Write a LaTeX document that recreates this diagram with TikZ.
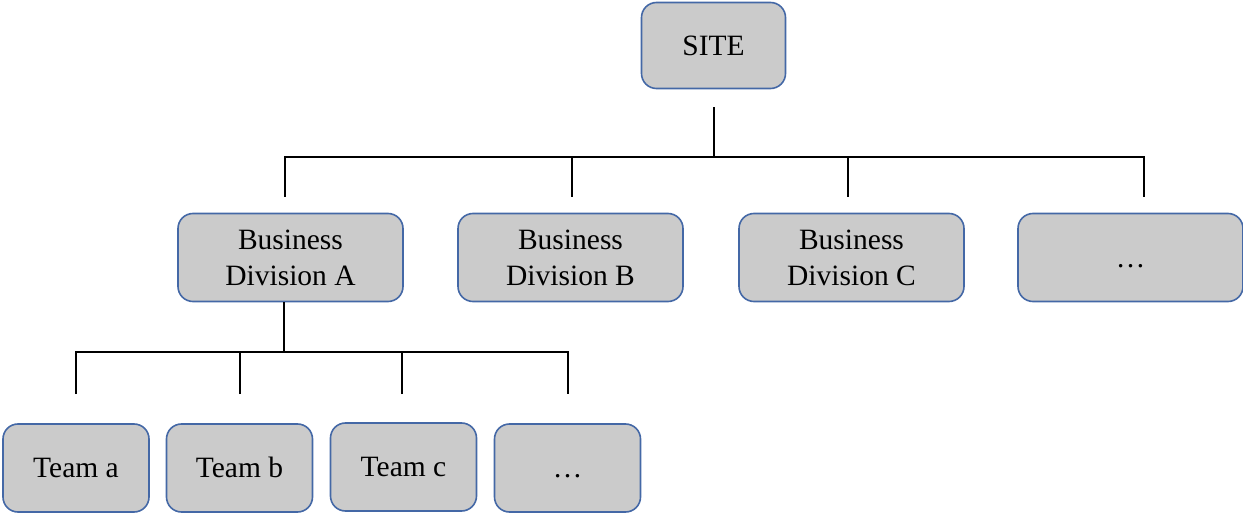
\documentclass[tikz,border=0pt]{standalone}
\usepackage{fontspec}
\setmainfont{Liberation Serif}
\definecolor{boxfill}{HTML}{CBCBCB}
\definecolor{boxline}{HTML}{4468A6}
\begin{document}
\begin{tikzpicture}[x=1pt,y=-1pt,
  orgbox/.style={draw=boxline, fill=boxfill, line width=1.6pt, rounded corners=15pt,
    inner sep=0pt, font=\fontsize{29.5}{36}\selectfont, align=center},
  onebox/.style={orgbox, text height=19.5pt, text depth=0pt},
  link/.style={draw=black, line width=2.4pt}]
\useasboundingbox (0,0) rectangle (1243,513);
% top
\node[onebox, minimum width=144pt, minimum height=86pt] (site) at (713.5,45.5) {SITE};
% divisions
\node[orgbox, minimum width=225pt, minimum height=88pt] (divA) at (290.5,257.5) {Business\\Division A};
\node[orgbox, minimum width=225pt, minimum height=88pt] (divB) at (570.5,257.5) {Business\\Division B};
\node[orgbox, minimum width=225pt, minimum height=88pt] (divC) at (851.5,257.5) {Business\\Division C};
\node[onebox, minimum width=225pt, minimum height=88pt] (divD) at (1130.5,257.5) {…};
% teams
\node[onebox, minimum width=146pt, minimum height=88pt] (teamA) at (76,468) {Team a};
\node[onebox, minimum width=146pt, minimum height=88pt] (teamB) at (239.5,468) {Team b};
\node[onebox, minimum width=146pt, minimum height=88pt] (teamC) at (403.5,467) {Team c};
\node[onebox, minimum width=146pt, minimum height=88pt] (teamD) at (567.5,468) {…};
% connector points
\coordinate (bus1) at (714,157);
\coordinate (s0) at ([yshift=-18pt]site.south -| bus1);
\coordinate (dA) at (285,197);
\coordinate (dB) at (572,197);
\coordinate (dC) at (848,197);
\coordinate (dD) at (1144,197);
\coordinate (bus2) at (284,352);
\coordinate (a0) at (divA.south -| bus2);
\coordinate (tA) at (76,394);
\coordinate (tB) at (240,394);
\coordinate (tC) at (402,394);
\coordinate (tD) at (568,394);
% connectors
\draw[link] (s0) -- (bus1);
\draw[link] (dA) -- (dA |- bus1) -- (dD |- bus1) -- (dD);
\draw[link] (dB) -- (dB |- bus1);
\draw[link] (dC) -- (dC |- bus1);
\draw[link] (a0) -- (bus2);
\draw[link] (tA) -- (tA |- bus2) -- (tD |- bus2) -- (tD);
\draw[link] (tB) -- (tB |- bus2);
\draw[link] (tC) -- (tC |- bus2);
\end{tikzpicture}
\end{document}
